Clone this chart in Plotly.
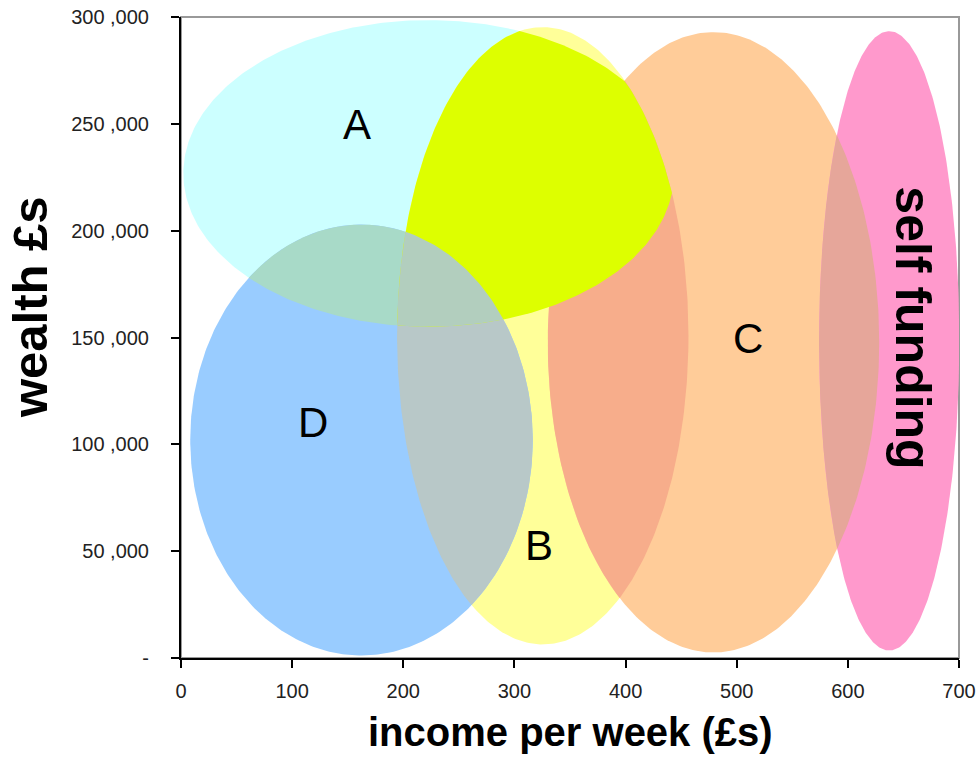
import numpy as np
import plotly.graph_objects as go

# ---- data (axis units: income £/week, wealth £) ----
regions = ["A", "B", "C", "D", "self funding"]
centre_income = [222.8, 325.5, 479.1, 162.4, 637.2]
centre_wealth = [226780, 150800, 147750, 102020, 148450]
half_income = [220.7, 131.1, 149.1, 154.1, 63.1]
half_wealth = [71760, 144460, 145170, 100840, 144930]
fill_colours = ["#CCFFFF", "#FFFF99", "#FFCC99", "#99CCFF", "#FF99CC"]

overlaps = [("B", "C"), ("C", "self funding"), ("A", "D"), ("B", "D"),
            ("A", "B"), ("A", "B", "D")]
overlap_colours = ["#F7AD8B", "#E6A69A", "#A8DAC8", "#B8C8C8", "#DDFF00", "#B2CEBE"]

label_text = ["A", "B", "C", "D", "self funding"]
label_income = [158.8, 321.9, 510.2, 119.2, 659.0]
label_wealth = [249760, 52770, 149450, 110000, 154550]

x_ticks = [0, 100, 200, 300, 400, 500, 600, 700]
x_tick_labels = ["0", "100", "200", "300", "400", "500", "600", "700"]
y_ticks = [0, 50000, 100000, 150000, 200000, 250000, 300000]
y_tick_labels = ["-", "50 ,000", "100 ,000", "150 ,000", "200 ,000", "250 ,000", "300 ,000"]

FONT = "Liberation Sans, Arial, sans-serif"


def ellipse(i, n=400):
    t = np.linspace(0, 2 * np.pi, n, endpoint=False)
    return list(zip(centre_income[i] + half_income[i] * np.cos(t),
                    centre_wealth[i] + half_wealth[i] * np.sin(t)))


def clip(subject, clipper):
    def inside(p, a, b):
        return (b[0] - a[0]) * (p[1] - a[1]) - (b[1] - a[1]) * (p[0] - a[0]) >= 0

    def inter(p, q, a, b):
        d1 = (q[0] - p[0], q[1] - p[1])
        d2 = (b[0] - a[0], b[1] - a[1])
        den = d1[0] * d2[1] - d1[1] * d2[0]
        if den == 0:
            return q
        s = ((a[0] - p[0]) * d2[1] - (a[1] - p[1]) * d2[0]) / den
        return (p[0] + s * d1[0], p[1] + s * d1[1])

    out = subject
    for k in range(len(clipper)):
        a, b = clipper[k - 1], clipper[k]
        inp, out = out, []
        if not inp:
            break
        for j in range(len(inp)):
            cur, prev = inp[j], inp[j - 1]
            if inside(cur, a, b):
                if not inside(prev, a, b):
                    out.append(inter(prev, cur, a, b))
                out.append(cur)
            elif inside(prev, a, b):
                out.append(inter(prev, cur, a, b))
    return out


polys = {name: ellipse(i) for i, name in enumerate(regions)}

fig = go.Figure()


def add_poly(pts, colour):
    if len(pts) < 3:
        return
    xs = [p[0] for p in pts] + [pts[0][0]]
    ys = [p[1] for p in pts] + [pts[0][1]]
    fig.add_trace(go.Scatter(x=xs, y=ys, mode="lines", fill="toself",
                             fillcolor=colour, line=dict(width=0, color=colour),
                             hoverinfo="skip", showlegend=False))


for name, col in zip(regions, fill_colours):
    add_poly(polys[name], col)

for combo, col in zip(overlaps, overlap_colours):
    pts = polys[combo[0]]
    for other in combo[1:]:
        pts = clip(pts, polys[other])
    add_poly(pts, col)

annotations = []
for txt, xv, yv in zip(label_text, label_income, label_wealth):
    if txt == "self funding":
        annotations.append(dict(x=xv, y=yv, xref="x", yref="y", text="<b>self funding</b>",
                                textangle=90, showarrow=False,
                                font=dict(family=FONT, size=50, color="black")))
    else:
        annotations.append(dict(x=xv, y=yv, xref="x", yref="y", text=txt, showarrow=False,
                                font=dict(family=FONT, size=42, color="black")))

annotations.append(dict(x=0.5, y=-0.115, xref="paper", yref="paper",
                        text="<b>income per week (£s)</b>", showarrow=False,
                        xanchor="center", yanchor="middle",
                        font=dict(family=FONT, size=40, color="black")))
annotations.append(dict(x=-0.195, y=0.548, xref="paper", yref="paper",
                        text="<b>wealth £s</b>", textangle=-90, showarrow=False,
                        xanchor="center", yanchor="middle",
                        font=dict(family=FONT, size=49, color="black")))

fig.update_layout(
    width=980, height=762,
    margin=dict(l=181, r=21, t=17, b=104, autoexpand=False),
    paper_bgcolor="white", plot_bgcolor="white",
    showlegend=False,
    annotations=annotations,
    shapes=[dict(type="rect", xref="paper", yref="paper", x0=0, y0=0, x1=1, y1=1,
                 line=dict(color="#999999", width=2), layer="below")],
    xaxis=dict(range=[0, 700], tickvals=x_ticks, ticktext=x_tick_labels,
               showgrid=False, zeroline=False, showline=True, linecolor="black",
               linewidth=2, ticks="outside", ticklen=8, tickwidth=2, tickcolor="black",
               tickfont=dict(family=FONT, size=20, color="#222222"),
               ticklabelstandoff=6, fixedrange=True, automargin=False),
    yaxis=dict(range=[0, 300000], tickvals=y_ticks, ticktext=y_tick_labels,
               showgrid=False, zeroline=False, showline=True, linecolor="black",
               linewidth=2, ticks="outside", ticklen=8, tickwidth=2, tickcolor="black",
               tickfont=dict(family=FONT, size=20, color="#222222"),
               ticklabelstandoff=18, fixedrange=True, automargin=False),
)

fig.write_html("out.html")
